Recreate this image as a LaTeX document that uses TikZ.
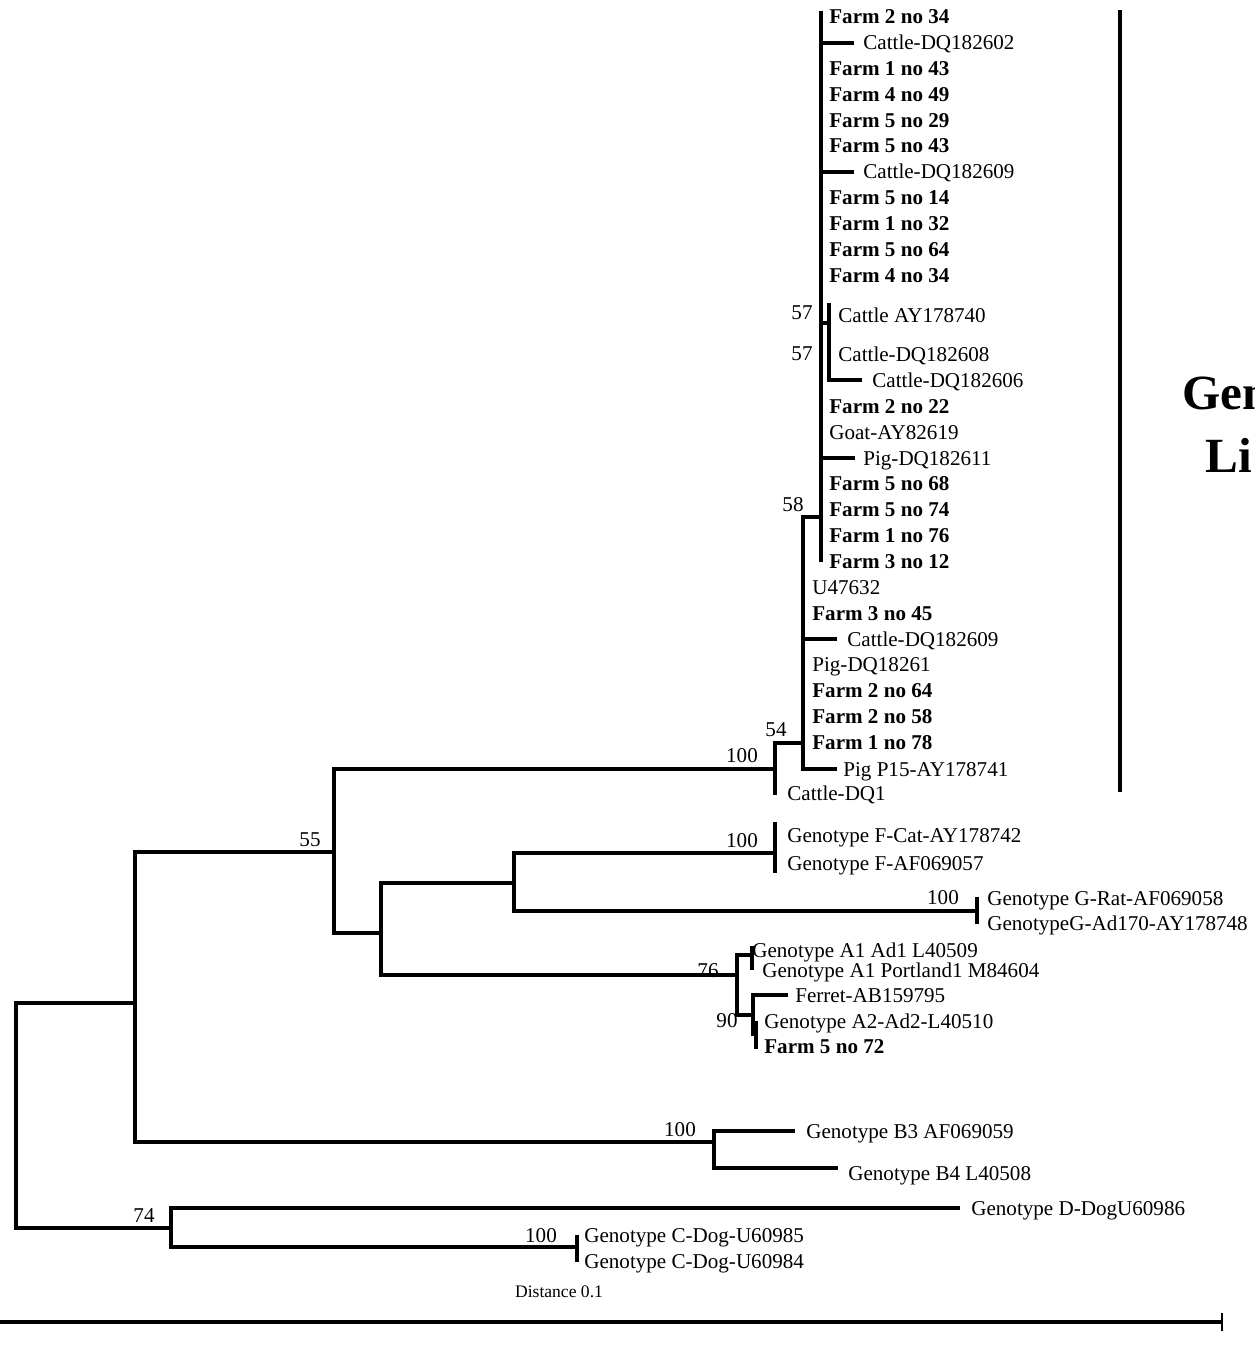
\documentclass[tikz,border=0pt]{standalone}
\usepackage{fontspec}
\setmainfont{Liberation Serif}
\tikzset{
  leaf/.style={anchor=base west, inner sep=0pt, font=\fontsize{12}{14}\selectfont},
  farm/.style={leaf, font=\fontsize{12}{14}\selectfont\bfseries},
  boot/.style={inner sep=0pt, font=\fontsize{12}{14}\selectfont},
  branch/.style={line width=1.9pt},
}
\begin{document}
\begin{tikzpicture}[x=0.02cm,y=-0.02cm]
	    \useasboundingbox (0,0) rectangle (1254,1351);
	    % inner nodes
	    \coordinate (root) at (16,1100);
	    \coordinate (n135) at (135,1003);
	    \coordinate (n55) at (334,852);
	    \coordinate (nE) at (775,769);
	    \coordinate (n54) at (803,743);
	    \coordinate (n58) at (821,517);
	    \coordinate (n57) at (829,323);
	    \coordinate (n381) at (381,933);
	    \coordinate (nFG) at (514,883);
	    \coordinate (nF) at (775,853);
	    \coordinate (nG) at (977,911);
	    \coordinate (nA) at (737,975);
	    \coordinate (nA1) at (752,955);
	    \coordinate (n90) at (753,1015);
	    \coordinate (nA2) at (756,1034);
	    \coordinate (nB) at (714,1142);
	    \coordinate (n74) at (171,1228);
	    \coordinate (nC) at (577,1247);
	    % tips
	    \coordinate (t58a) at (821,11);
	    \coordinate (t58b) at (821,562);
	    \coordinate (tDQ602) at (854,43);
	    \coordinate (tDQ609) at (854,172);
	    \coordinate (tDQ611) at (855,458);
	    \coordinate (t57a) at (829,303);
	    \coordinate (tDQ606) at (862,380);
	    \coordinate (tDQ609b) at (837,639);
	    \coordinate (tP15) at (837,769);
	    \coordinate (tDQ1) at (775,795);
	    \coordinate (tFa) at (775,822);
	    \coordinate (tFb) at (775,873);
	    \coordinate (tGa) at (977,897);
	    \coordinate (tGb) at (977,924);
	    \coordinate (tA1a) at (752,946);
	    \coordinate (tA1b) at (752,970);
	    \coordinate (tFer) at (788,995);
	    \coordinate (tA2a) at (756,1021);
	    \coordinate (tA2b) at (756,1049);
	    \coordinate (tB3) at (795,1131);
	    \coordinate (tB4) at (838,1168);
	    \coordinate (tD) at (960,1208);
	    \coordinate (tCa) at (577,1235);
	    \coordinate (tCb) at (577,1262);
	    % branches
	    \draw[branch] (root) |- (n135) (root) |- (n74);
	    \draw[branch] (n135) |- (n55) (n135) |- (nB);
	    \draw[branch] (n55) |- (nE) (n55) |- (n381);
	    \draw[branch] (nE) |- (n54) (nE) -- (tDQ1);
	    \draw[branch] (n54) |- (n58) (n54) |- (tDQ609b) (n54) |- (tP15);
	    \draw[branch] (n58) -- (t58a) (n58) -- (t58b);
	    \draw[branch] (n58) |- (tDQ602) (n58) |- (tDQ609) (n58) |- (tDQ611) (n58) |- (n57);
	    \draw[branch] (n57) -- (t57a) (n57) |- (tDQ606);
	    \draw[branch] (n381) |- (nFG) (n381) |- (nA);
	    \draw[branch] (nFG) |- (nF) (nFG) |- (nG);
	    \draw[branch] (nF) -- (tFa) (nF) -- (tFb);
	    \draw[branch] (nG) -- (tGa) (nG) -- (tGb);
	    \draw[branch] (nA) |- (nA1) (nA) |- (n90);
	    \draw[branch] (nA1) -- (tA1a) (nA1) -- (tA1b);
	    \draw[branch] (n90) |- (tFer) (n90) |- (nA2);
	    \draw[branch] (nA2) -- (tA2a) (nA2) -- (tA2b);
	    \draw[branch] (nB) |- (tB3) (nB) |- (tB4);
	    \draw[branch] (n74) |- (tD) (n74) |- (nC);
	    \draw[branch] (nC) -- (tCa) (nC) -- (tCb);
	    % leaves, genotype E
	    \node[farm] (f234) at (829,24) {Farm 2 no 34};
	    \node[leaf] (c602) at (863,50) {Cattle-DQ182602};
	    \node[farm] (f143) at (829,76) {Farm 1 no 43};
	    \node[farm] (f449) at (829,102) {Farm 4 no 49};
	    \node[farm] (f529) at (829,128) {Farm 5 no 29};
	    \node[farm] (f543) at (829,153) {Farm 5 no 43};
	    \node[leaf] (c609) at (863,179) {Cattle-DQ182609};
	    \node[farm] (f514) at (829,205) {Farm 5 no 14};
	    \node[farm] (f132) at (829,231) {Farm 1 no 32};
	    \node[farm] (f564) at (829,257) {Farm 5 no 64};
	    \node[farm] (f434) at (829,283) {Farm 4 no 34};
	    \node[leaf] (c740) at (838,322) {Cattle AY178740};
	    \node[leaf] (c608) at (838,361) {Cattle-DQ182608};
	    \node[leaf] (c606) at (872,387) {Cattle-DQ182606};
	    \node[farm] (f222) at (829,413) {Farm 2 no 22};
	    \node[leaf] (goat) at (829,439) {Goat-AY82619};
	    \node[leaf] (p611) at (863,465) {Pig-DQ182611};
	    \node[farm] (f568) at (829,490) {Farm 5 no 68};
	    \node[farm] (f574) at (829,516) {Farm 5 no 74};
	    \node[farm] (f176) at (829,542) {Farm 1 no 76};
	    \node[farm] (f312) at (829,568) {Farm 3 no 12};
	    \node[leaf] (u476) at (812,594) {U47632};
	    \node[farm] (f345) at (812,620) {Farm 3 no 45};
	    \node[leaf] (c609b) at (847,646) {Cattle-DQ182609};
	    \node[leaf] (p261) at (812,671) {Pig-DQ18261};
	    \node[farm] (f264) at (812,697) {Farm 2 no 64};
	    \node[farm] (f258) at (812,723) {Farm 2 no 58};
	    \node[farm] (f178) at (812,749) {Farm 1 no 78};
	    \node[leaf] (p15) at (843,776) {Pig P15-AY178741};
	    \node[leaf] (cdq1) at (787,800) {Cattle-DQ1};
	    % leaves, other genotypes
	    \node[leaf] (fcat) at (787,842) {Genotype F-Cat-AY178742};
	    \node[leaf] (f057) at (787,870) {Genotype F-AF069057};
	    \node[leaf] (grat) at (987,905) {Genotype G-Rat-AF069058};
	    \node[leaf] (gad) at (987,930) {GenotypeG-Ad170-AY178748};
	    \node[leaf] (a1ad) at (752,957) {Genotype A1 Ad1 L40509};
	    \node[leaf] (a1pt) at (762,977) {Genotype A1 Portland1 M84604};
	    \node[leaf] (fer) at (795,1002) {Ferret-AB159795};
	    \node[leaf] (a2ad) at (764,1028) {Genotype A2-Ad2-L40510};
	    \node[farm] (f572) at (764,1053) {Farm 5 no 72};
	    \node[leaf] (b3) at (806,1138) {Genotype B3 AF069059};
	    \node[leaf] (b4) at (848,1180) {Genotype B4 L40508};
	    \node[leaf] (ddog) at (971,1215) {Genotype D-DogU60986};
	    \node[leaf] (c985) at (584,1242) {Genotype C-Dog-U60985};
	    \node[leaf] (c984) at (584,1268) {Genotype C-Dog-U60984};
	    % bootstrap values
	    \node[boot] (b57a) at (802,313) {57};
	    \node[boot] (b57b) at (802,354) {57};
	    \node[boot] (b58) at (793,505) {58};
	    \node[boot] (b54) at (776,730) {54};
	    \node[boot] (b100e) at (742,756) {100};
	    \node[boot] (b55) at (310,840) {55};
	    \node[boot] (b100f) at (742,841) {100};
	    \node[boot] (b100g) at (943,898) {100};
	    \node[boot] (b76) at (708,971) {76};
	    \node[boot] (b90) at (727,1021) {90};
	    \node[boot] (b100b) at (680,1130) {100};
	    \node[boot] (b74) at (144,1216) {74};
	    \node[boot] (b100c) at (541,1236) {100};
	    % genotype E bar and title
	    \coordinate (bar1) at (1120,10);
	    \coordinate (bar2) at (1120,792);
	    \draw[line width=1.9pt] (bar1) -- (bar2);
	    \begin{scope}
	      \clip (0,0) rectangle (1254,1351);
	      \node[anchor=base west, inner sep=0pt, font=\fontsize{28}{34}\selectfont\bfseries] (gen) at (1182,409) {Gen};
	      \node[anchor=base west, inner sep=0pt, font=\fontsize{28}{34}\selectfont\bfseries] (li) at (1205,472) {Li};
	    \end{scope}
	    % scale bar
	    \node[inner sep=0pt, font=\fontsize{10}{12}\selectfont] (dist) at (559,1292) {Distance 0.1};
	    \coordinate (s0) at (0,1322);
	    \coordinate (s1) at (1222,1322);
	    \coordinate (s1a) at (1222,1313);
	    \coordinate (s1b) at (1222,1331);
	    \draw[line width=2.4pt] (s0) -- (s1);
	    \draw[line width=1.2pt] (s1a) -- (s1b);
\end{tikzpicture}
\end{document}
